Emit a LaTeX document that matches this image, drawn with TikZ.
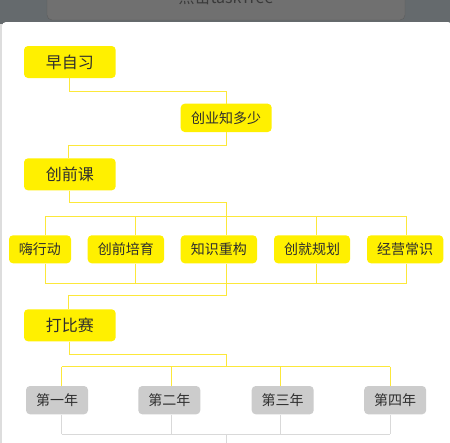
\documentclass[tikz,border=0pt]{standalone}
\usepackage{fontspec}
\newfontfamily\cjk{Noto Sans CJK SC}
\definecolor{bgdark}{HTML}{656A6D}
\definecolor{btn}{HTML}{707070}
\definecolor{btnedge}{HTML}{5C5C5C}
\definecolor{btntext}{HTML}{3A3A3A}
\definecolor{edgegray}{HTML}{DDDDDD}
\definecolor{yel}{HTML}{FFF000}
\definecolor{yline}{HTML}{FCE83A}
\definecolor{gnode}{HTML}{CCCCCC}
\definecolor{gline}{HTML}{D9D9D9}
\definecolor{txt}{HTML}{2E2E2E}
\tikzset{
  box/.style={rounded corners=4pt, inner sep=0pt, text=txt, minimum height=28pt},
  bigbox/.style={box, fill=yel, minimum width=91.7pt, minimum height=32pt, font=\cjk\fontsize{16}{16}\selectfont},
  midbox/.style={box, fill=yel, minimum width=76.3pt, font=\cjk\fontsize{14}{14}\selectfont},
  graybox/.style={box, fill=gnode, minimum width=62pt, minimum height=28.3pt, font=\cjk\fontsize{14}{14}\selectfont},
  yconn/.style={draw=yline, line width=1pt},
  gconn/.style={draw=gline, line width=1pt},
}
\begin{document}
\begin{tikzpicture}[x=1pt,y=-1pt]
\useasboundingbox (0,0) rectangle (450,442);
\clip (0,0) rectangle (450,442);
% backdrop
\fill[bgdark] (0,0) rectangle (450,442);
\draw[fill=btn, draw=btnedge, rounded corners=5pt] (47,-20) rectangle (405,20);
\node[anchor=base, text=btntext, font=\cjk\fontsize{16}{16}\selectfont, inner sep=0pt] (btnlabel) at (226,3) {点击taskTree};
\fill[edgegray] (0,24) rectangle (3,450);
\fill[white, rounded corners=4pt] (2,22) rectangle (452,470);

% nodes
\node[bigbox] (zao) at (69.85,62) {早自习};
\node[box, fill=yel, minimum width=91pt, minimum height=28.3pt, font=\cjk\fontsize{14}{14}\selectfont] (cy) at (226.2,117.85) {创业知多少};
\node[bigbox] (cq) at (69.85,174.35) {创前课};
\node[box, fill=yel, minimum width=62pt, font=\cjk\fontsize{14}{14}\selectfont] (hx) at (40,249.3) {嗨行动};
\node[midbox] (cp) at (125.85,249.3) {创前培育};
\node[midbox] (zs) at (218.85,249.3) {知识重构};
\node[midbox, minimum width=76pt] (cj) at (312,249.3) {创就规划};
\node[midbox] (jy) at (405.15,249.3) {经营常识};
\node[bigbox] (dbs) at (69.85,325.3) {打比赛};
\node[graybox] (d1) at (57,400.15) {第一年};
\node[graybox] (d2) at (169.3,400.15) {第二年};
\node[graybox] (d3) at (282.7,400.15) {第三年};
\node[graybox] (d4) at (395.15,400.15) {第四年};

% junction coordinates
\coordinate (k1) at (226.7,91);
\coordinate (k2) at (68.5,145.3);
\coordinate (k3) at (226.7,202.3);
\coordinate (a1) at (45,216);
\coordinate (a2) at (135.7,216);
\coordinate (a3) at (226.7,216);
\coordinate (a4) at (316.3,216);
\coordinate (a5) at (406.7,216);
\coordinate (b1) at (45,283.3);
\coordinate (b2) at (135.7,283.3);
\coordinate (b3) at (226.7,283.3);
\coordinate (b4) at (316.3,283.3);
\coordinate (b5) at (406.7,283.3);
\coordinate (k4) at (68.5,295.3);
\coordinate (k5) at (226.7,354.3);
\coordinate (c1) at (61.7,366.7);
\coordinate (c2) at (171.7,366.7);
\coordinate (c3) at (226.7,366.7);
\coordinate (c4) at (280.7,366.7);
\coordinate (c5) at (390.3,366.7);
\coordinate (e1) at (61.7,434.3);
\coordinate (e2) at (171.7,434.3);
\coordinate (e3) at (226.7,434.3);
\coordinate (e4) at (280.7,434.3);
\coordinate (e5) at (390.3,434.3);
\coordinate (tail) at (226.7,446);

% yellow connectors
\draw[yconn] (zao.south) |- (k1) -- (k1 |- cy.north);
\draw[yconn] (cy.south) |- (k2) -- (k2 |- cq.north);
\draw[yconn] (cq.south) |- (k3) -- (a3);
\draw[yconn] (a1) -- (a5);
\draw[yconn] (a1) -- (a1 |- hx.north);
\draw[yconn] (a2) -- (a2 |- cp.north);
\draw[yconn] (a3) -- (a3 |- zs.north);
\draw[yconn] (a4) -- (a4 |- cj.north);
\draw[yconn] (a5) -- (a5 |- jy.north);
\draw[yconn] (b1 |- hx.south) -- (b1);
\draw[yconn] (b2 |- cp.south) -- (b2);
\draw[yconn] (b3 |- zs.south) -- (b3);
\draw[yconn] (b4 |- cj.south) -- (b4);
\draw[yconn] (b5 |- jy.south) -- (b5);
\draw[yconn] (b1) -- (b5);
\draw[yconn] (b3) |- (k4) -- (k4 |- dbs.north);
\draw[yconn] (dbs.south) |- (k5) -- (c3);
\draw[yconn] (c1) -- (c5);
\draw[yconn] (c1) -- (c1 |- d1.north);
\draw[yconn] (c2) -- (c2 |- d2.north);
\draw[yconn] (c4) -- (c4 |- d3.north);
\draw[yconn] (c5) -- (c5 |- d4.north);

% gray connectors
\draw[gconn] (e1 |- d1.south) -- (e1);
\draw[gconn] (e2 |- d2.south) -- (e2);
\draw[gconn] (e4 |- d3.south) -- (e4);
\draw[gconn] (e5 |- d4.south) -- (e5);
\draw[gconn] (e1) -- (e5);
\draw[gconn] (e3) -- (tail);
\end{tikzpicture}
\end{document}
